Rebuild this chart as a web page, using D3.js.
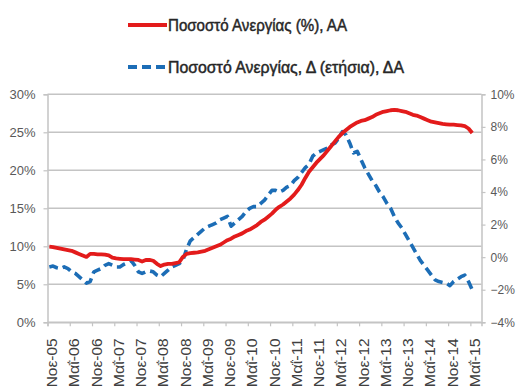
<!DOCTYPE html>
<html>
<head>
<meta charset="utf-8">
<script src="https://cdn.jsdelivr.net/npm/d3@7"></script>
<style>
  html, body { margin: 0; padding: 0; background: #fff; }
  svg { display: block; }
</style>
</head>
<body>
<svg id="chart" width="516" height="390"></svg>
<script>
// Unemployment rate (left axis, %) — monthly, Nov-05 .. May-15
const unemploymentRate = [
  9.95, 9.9, 9.8, 9.7, 9.6, 9.5, 9.4, 9.2, 9.0, 8.8,
  8.6, 9.0, 9.0, 8.95, 8.95, 8.9, 8.8, 8.5, 8.4, 8.35,
  8.3, 8.3, 8.3, 8.25, 8.2, 8.0, 8.2, 8.2, 8.1, 7.7,
  7.4, 7.6, 7.7, 7.7, 7.8, 7.9, 8.6, 9.0, 9.1, 9.15,
  9.2, 9.3, 9.4, 9.6, 9.8, 10.0, 10.2, 10.5, 10.8, 11.0,
  11.3, 11.5, 11.7, 12.0, 12.2, 12.5, 12.8, 13.2, 13.5, 13.9,
  14.3, 14.8, 15.2, 15.5, 15.9, 16.3, 16.8, 17.4, 18.1, 19.0,
  19.8, 20.4, 21.0, 21.5, 22.0, 22.6, 23.2, 23.8, 24.4, 24.9,
  25.3, 25.7, 26.0, 26.3, 26.5, 26.6, 26.8, 27.0, 27.3, 27.5,
  27.7, 27.8, 27.9, 27.95, 27.9, 27.8, 27.7, 27.5, 27.3, 27.2,
  27.0, 26.8, 26.6, 26.4, 26.3, 26.2, 26.1, 26.05, 26.0, 26.0,
  25.95, 25.9, 25.8, 25.5, 24.9
];

// Annual change of the unemployment rate (right axis, percentage points)
const annualChange = [
  -0.6, -0.55, -0.65, -0.7, -0.6, -0.7, -0.9, -1.0, -1.2, -1.4,
  -1.6, -1.5, -0.9, -0.8, -0.7, -0.5, -0.4, -0.5, -0.6, -0.6,
  -0.45, -0.35, -0.2, -0.5, -0.9, -1.0, -0.9, -0.85, -0.9, -1.1,
  -1.2, -1.0, -0.8, -0.6, -0.5, -0.4, -0.2, 0.5, 1.0, 1.2,
  1.4, 1.6, 1.8, 1.9, 2.0, 2.1, 2.3, 2.4, 2.5, 1.9,
  2.1, 2.3, 2.5, 2.8, 3.0, 3.1, 3.1, 3.3, 3.5, 3.8,
  4.1, 4.1, 4.0, 4.1, 4.3, 4.4, 4.7, 4.9, 5.2, 5.5,
  5.7, 6.2, 6.4, 6.5, 6.6, 6.7, 6.9, 7.0, 7.3, 7.7,
  7.5, 7.0, 6.4, 6.5, 6.0, 5.5, 5.1, 4.7, 4.4, 4.0,
  3.7, 3.3, 3.0, 2.5, 2.1, 1.8, 1.4, 1.0, 0.6, 0.2,
  -0.2, -0.5, -0.8, -1.1, -1.4, -1.5, -1.55, -1.6, -1.75, -1.5,
  -1.35, -1.2, -1.1, -1.5, -2.0
];

// Category-axis labels, one every six months
const xLabels = [
  "Νοε-05", "Μαΐ-06", "Νοε-06", "Μαΐ-07", "Νοε-07", "Μαΐ-08", "Νοε-08",
  "Μαΐ-09", "Νοε-09", "Μαΐ-10", "Νοε-10", "Μαΐ-11", "Νοε-11", "Μαΐ-12",
  "Νοε-12", "Μαΐ-13", "Νοε-13", "Μαΐ-14", "Νοε-14", "Μαΐ-15"
];
const leftTicks = [0, 0.05, 0.10, 0.15, 0.20, 0.25, 0.30];
const rightTicks = [-0.04, -0.02, 0, 0.02, 0.04, 0.06, 0.08, 0.10];
const seriesNames = ["Ποσοστό Ανεργίας (%), ΑΑ", "Ποσοστό Ανεργίας, Δ (ετήσια), ΔΑ"];

const nCategories = 117;     // category slots on the time axis
const labelEvery = 6;

const svg = d3.select("#chart");
const plotLeft = 47.5, plotRight = 481.5, plotTop = 94.3, plotBottom = 322.3;
const font = "'Liberation Sans', Arial, sans-serif";
const gridColor = "#c4c4c4";
const red = "#e31b1b", blue = "#1c6db6";

const x = d3.scaleLinear().domain([0, nCategories]).range([plotLeft, plotRight]);
const yL = d3.scaleLinear().domain([0, 0.30]).range([plotBottom, plotTop]);
const yR = d3.scaleLinear().domain([-0.04, 0.10]).range([plotBottom, plotTop]);

// horizontal gridlines on the left scale
svg.append("g").selectAll("line").data(leftTicks).join("line")
  .attr("x1", plotLeft).attr("x2", plotRight)
  .attr("y1", d => yL(d)).attr("y2", d => yL(d))
  .attr("stroke", gridColor).attr("stroke-width", 1.5);

// left axis
const gL = svg.append("g").attr("transform", `translate(${plotLeft},0)`)
  .call(d3.axisLeft(yL).tickValues(leftTicks).tickFormat(d3.format(".0%")).tickSizeOuter(0).tickSize(4).tickPadding(8));
gL.selectAll("text").style("font-size", "13px");
// right axis
const gR = svg.append("g").attr("transform", `translate(${plotRight},0)`)
  .call(d3.axisRight(yR).tickValues(rightTicks).tickFormat(d3.format(".0%")).tickSizeOuter(0).tickSize(4).tickPadding(5));
gR.selectAll("text").style("font-size", "12px");

[gL, gR].forEach(g => {
  g.select(".domain").attr("stroke", gridColor).attr("stroke-width", 1.5);
  g.selectAll(".tick line").attr("stroke", gridColor).attr("stroke-width", 1.2);
  g.selectAll("text").attr("fill", "#595959").style("font-family", font);
});

// bottom category axis
const tickIdx = xLabels.map((_, k) => k * labelEvery);
const gX = svg.append("g").attr("transform", `translate(0,${plotBottom})`)
  .call(d3.axisBottom(x).tickValues(tickIdx).tickFormat((d, k) => xLabels[k]).tickSizeOuter(0).tickSize(4));
gX.select(".domain").attr("stroke", gridColor).attr("stroke-width", 1.5);
gX.selectAll(".tick line").attr("stroke", gridColor).attr("stroke-width", 1.2);
gX.selectAll("text")
  .attr("y", 0).attr("dy", null)
  .attr("transform", "translate(4,16) rotate(-90)")
  .attr("text-anchor", "end")
  .attr("dominant-baseline", "central")
  .attr("textLength", 49).attr("lengthAdjust", "spacingAndGlyphs")
  .attr("fill", "#404040")
  .style("font-family", font).style("font-size", "14px");

// series lines
const lineL = d3.line().x((d, i) => x(i + 0.5)).y(d => yL(d / 100));
const lineR = d3.line().x((d, i) => x(i + 0.5)).y(d => yR(d / 100));

svg.append("path").datum(annualChange)
  .attr("d", lineR).attr("fill", "none")
  .attr("stroke", blue).attr("stroke-width", 3.6)
  .attr("stroke-dasharray", "9,5").attr("stroke-linejoin", "round");

svg.append("path").datum(unemploymentRate)
  .attr("d", lineL).attr("fill", "none")
  .attr("stroke", red).attr("stroke-width", 3.8)
  .attr("stroke-linejoin", "round");

// legend
const legend = svg.append("g");
const legendRows = [
  { name: seriesNames[0], color: red, dash: null, y: 25, w: 179 },
  { name: seriesNames[1], color: blue, dash: "9,5", y: 67, w: 236 }
];
legendRows.forEach(r => {
  legend.append("line")
    .attr("x1", 128).attr("x2", 167).attr("y1", r.y).attr("y2", r.y)
    .attr("stroke", r.color).attr("stroke-width", 4)
    .attr("stroke-dasharray", r.dash);
  legend.append("text")
    .attr("x", 168).attr("y", r.y)
    .attr("dominant-baseline", "central")
    .attr("textLength", r.w).attr("lengthAdjust", "spacingAndGlyphs")
    .attr("fill", "#262626")
    .attr("stroke", "#262626").attr("stroke-width", 0.45)
    .style("font-family", font).style("font-size", "16px")
    .text(r.name);
});
</script>
</body>
</html>
